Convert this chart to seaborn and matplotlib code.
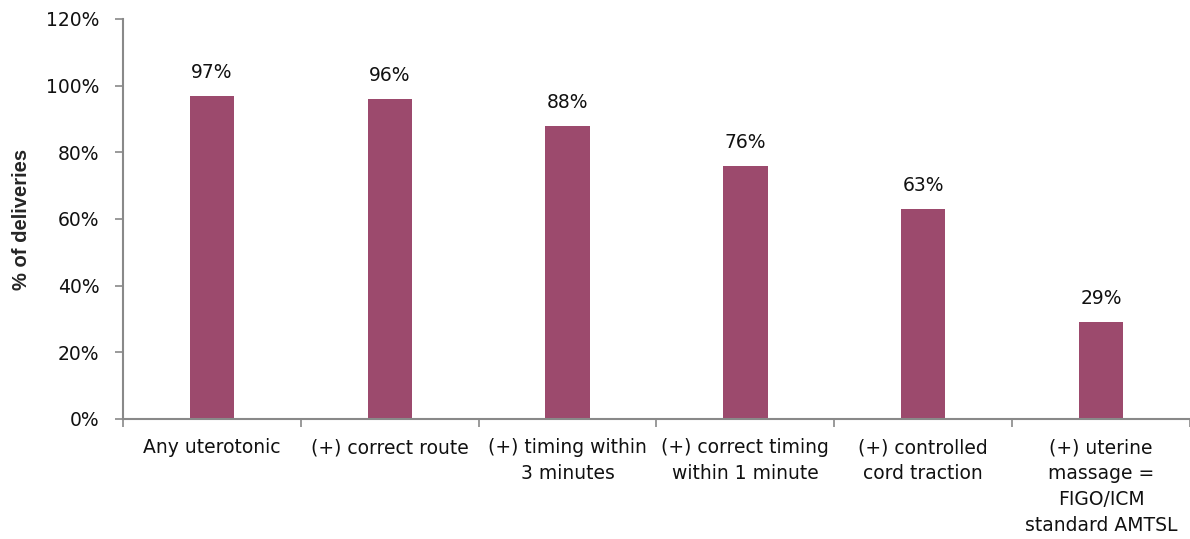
import matplotlib
matplotlib.use("Agg")
import matplotlib.pyplot as plt
import seaborn as sns
import pandas as pd
from matplotlib.ticker import FuncFormatter, FixedLocator

steps = ["Any uterotonic", "(+) correct route", "(+) timing within\n3 minutes",
         "(+) correct timing\nwithin 1 minute", "(+) controlled\ncord traction",
         "(+) uterine\nmassage =\nFIGO/ICM\nstandard AMTSL"]
pct = [97, 96, 88, 76, 63, 29]

df = pd.DataFrame({"step": steps, "pct": pct})

sns.set_style("white")
plt.rcParams['font.family'] = ['DejaVu Sans']

fig = plt.figure(figsize=(11.9, 5.39), dpi=100)
ax = fig.add_axes([123 / 1190, 1 - 419 / 539, 1 - 123 / 1190, 400 / 539])

sns.barplot(data=df, x="step", y="pct", color="#9C4A6D", width=0.25,
            saturation=1, linewidth=0, ax=ax)

for i, v in enumerate(pct):
    ax.annotate(f"{v}%", (i, v), xytext=(0, 10), textcoords="offset points",
                ha="center", va="bottom", fontsize=13.5, color="#111111")

ax.set_ylim(0, 120)
ax.set_xlim(-0.5, len(steps) - 0.5)
ax.set_yticks(range(0, 121, 20))
ax.yaxis.set_major_formatter(FuncFormatter(lambda y, _: f"{int(y)}%"))
ax.set_ylabel("% of deliveries", fontsize=14.5, fontweight="bold",
              family="Liberation Sans", labelpad=11)
ax.set_xlabel("")

# ticks between categories, labels centered under bars
ax.xaxis.set_major_locator(FixedLocator([i - 0.5 for i in range(len(steps) + 1)]))
ax.xaxis.set_major_formatter(FuncFormatter(lambda x, _: ""))
ax.xaxis.set_minor_locator(FixedLocator(list(range(len(steps)))))
ax.set_xticklabels(steps, minor=True)
for lbl in ax.get_xticklabels(minor=True):
    lbl.set_linespacing(1.45)
ax.tick_params(axis="x", which="minor", length=0, labelsize=13.5, pad=14,
               labelcolor="#111111")
ax.tick_params(axis="x", which="major", length=6, color="#898989", width=1.2)
ax.tick_params(axis="y", length=6, color="#898989", width=1.2, labelsize=13.5,
               pad=11, labelcolor="#111111")
ax.tick_params(axis="both", direction="out")
ax.xaxis.set_tick_params(which="both", bottom=True)
ax.yaxis.set_tick_params(left=True)

for s in ["top", "right"]:
    ax.spines[s].set_visible(False)
for s in ["left", "bottom"]:
    ax.spines[s].set_color("#898989")
    ax.spines[s].set_linewidth(1.5)

fig.savefig("out.png", dpi=100)
